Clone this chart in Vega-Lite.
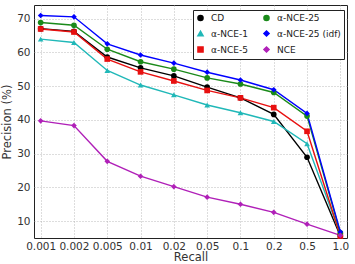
{
  "$schema": "https://vega.github.io/schema/vega-lite/v6.json",
  "autosize": "none",
  "width": 313,
  "height": 233,
  "padding": {"left": 34, "top": 5, "right": 8, "bottom": 26},
  "config": {
    "font": "DejaVu Sans",
    "view": {"stroke": "#222", "strokeWidth": 1},
    "axis": {"grid": true, "gridDash": [1, 2], "gridColor": "#aaa", "gridWidth": 0.8, "domain": false, "tickSize": 0, "labelColor": "#333", "titleColor": "#333", "labelFont": "DejaVu Sans", "titleFont": "DejaVu Sans", "titleFontWeight": "normal", "labelFontSize": 10.5, "titleFontSize": 11.5},
    "legend": {"title": null, "orient": "none", "legendX": 159, "legendY": 5, "columns": 2, "direction": "vertical", "strokeColor": "#222", "fillColor": "white", "padding": 3, "rowPadding": 3, "columnPadding": 12, "labelFontSize": 9, "labelFont": "DejaVu Sans", "labelColor": "#222", "symbolSize": 26, "labelLimit": 200, "labelOffset": 6}
  },
  "data": {"values": [
    {"recall": "0.001", "method": "CD", "precision": 67.0},
    {"recall": "0.002", "method": "CD", "precision": 66.2},
    {"recall": "0.005", "method": "CD", "precision": 58.6},
    {"recall": "0.01", "method": "CD", "precision": 55.4},
    {"recall": "0.02", "method": "CD", "precision": 53.0},
    {"recall": "0.05", "method": "CD", "precision": 49.7},
    {"recall": "0.1", "method": "CD", "precision": 46.5},
    {"recall": "0.2", "method": "CD", "precision": 41.6},
    {"recall": "0.5", "method": "CD", "precision": 28.9},
    {"recall": "1.0", "method": "CD", "precision": 5.6},
    {"recall": "0.001", "method": "α-NCE-1", "precision": 63.9},
    {"recall": "0.002", "method": "α-NCE-1", "precision": 62.9},
    {"recall": "0.005", "method": "α-NCE-1", "precision": 54.6},
    {"recall": "0.01", "method": "α-NCE-1", "precision": 50.3},
    {"recall": "0.02", "method": "α-NCE-1", "precision": 47.4},
    {"recall": "0.05", "method": "α-NCE-1", "precision": 44.4},
    {"recall": "0.1", "method": "α-NCE-1", "precision": 42.1},
    {"recall": "0.2", "method": "α-NCE-1", "precision": 39.5},
    {"recall": "0.5", "method": "α-NCE-1", "precision": 32.9},
    {"recall": "1.0", "method": "α-NCE-1", "precision": 6.0},
    {"recall": "0.001", "method": "α-NCE-5", "precision": 66.9},
    {"recall": "0.002", "method": "α-NCE-5", "precision": 66.0},
    {"recall": "0.005", "method": "α-NCE-5", "precision": 58.0},
    {"recall": "0.01", "method": "α-NCE-5", "precision": 54.2},
    {"recall": "0.02", "method": "α-NCE-5", "precision": 51.5},
    {"recall": "0.05", "method": "α-NCE-5", "precision": 48.7},
    {"recall": "0.1", "method": "α-NCE-5", "precision": 46.5},
    {"recall": "0.2", "method": "α-NCE-5", "precision": 43.6},
    {"recall": "0.5", "method": "α-NCE-5", "precision": 36.6},
    {"recall": "1.0", "method": "α-NCE-5", "precision": 5.6},
    {"recall": "0.001", "method": "α-NCE-25", "precision": 68.8},
    {"recall": "0.002", "method": "α-NCE-25", "precision": 68.0},
    {"recall": "0.005", "method": "α-NCE-25", "precision": 60.9},
    {"recall": "0.01", "method": "α-NCE-25", "precision": 57.2},
    {"recall": "0.02", "method": "α-NCE-25", "precision": 55.0},
    {"recall": "0.05", "method": "α-NCE-25", "precision": 52.4},
    {"recall": "0.1", "method": "α-NCE-25", "precision": 50.6},
    {"recall": "0.2", "method": "α-NCE-25", "precision": 48.1},
    {"recall": "0.5", "method": "α-NCE-25", "precision": 41.1},
    {"recall": "1.0", "method": "α-NCE-25", "precision": 6.5},
    {"recall": "0.001", "method": "α-NCE-25 (idf)", "precision": 70.9},
    {"recall": "0.002", "method": "α-NCE-25 (idf)", "precision": 70.5},
    {"recall": "0.005", "method": "α-NCE-25 (idf)", "precision": 62.5},
    {"recall": "0.01", "method": "α-NCE-25 (idf)", "precision": 59.2},
    {"recall": "0.02", "method": "α-NCE-25 (idf)", "precision": 56.8},
    {"recall": "0.05", "method": "α-NCE-25 (idf)", "precision": 54.1},
    {"recall": "0.1", "method": "α-NCE-25 (idf)", "precision": 51.8},
    {"recall": "0.2", "method": "α-NCE-25 (idf)", "precision": 48.9},
    {"recall": "0.5", "method": "α-NCE-25 (idf)", "precision": 41.9},
    {"recall": "1.0", "method": "α-NCE-25 (idf)", "precision": 6.8},
    {"recall": "0.001", "method": "NCE", "precision": 39.7},
    {"recall": "0.002", "method": "NCE", "precision": 38.3},
    {"recall": "0.005", "method": "NCE", "precision": 27.7},
    {"recall": "0.01", "method": "NCE", "precision": 23.3},
    {"recall": "0.02", "method": "NCE", "precision": 20.2},
    {"recall": "0.05", "method": "NCE", "precision": 17.1},
    {"recall": "0.1", "method": "NCE", "precision": 15.0},
    {"recall": "0.2", "method": "NCE", "precision": 12.6},
    {"recall": "0.5", "method": "NCE", "precision": 9.1},
    {"recall": "1.0", "method": "NCE", "precision": 5.8}
  ]},
  "encoding": {
    "x": {"field": "recall", "type": "ordinal", "sort": ["0.001", "0.002", "0.005", "0.01", "0.02", "0.05", "0.1", "0.2", "0.5", "1.0"], "scale": {"type": "point", "padding": 0.2}, "axis": {"title": "Recall", "labelAngle": 0, "labelPadding": 3, "titlePadding": 0}},
    "y": {"field": "precision", "type": "quantitative", "scale": {"domain": [5, 74], "nice": false, "zero": false}, "axis": {"title": "Precision (%)", "values": [10, 20, 30, 40, 50, 60, 70], "labelPadding": 4, "titlePadding": 4}},
    "color": {"field": "method", "type": "nominal", "scale": {"domain": ["CD", "α-NCE-1", "α-NCE-5", "α-NCE-25", "α-NCE-25 (idf)", "NCE"], "range": ["#000000", "#20b8b8", "#e81010", "#1a8a1a", "#0000ff", "#b020b8"]}}
  },
  "layer": [
    {"mark": {"type": "line", "strokeWidth": 1.4}, "encoding": {"detail": {"field": "method"}}},
    {"mark": {"type": "point", "filled": true, "opacity": 1, "size": 32},
     "encoding": {
       "shape": {"field": "method", "type": "nominal", "scale": {"domain": ["CD", "α-NCE-1", "α-NCE-5", "α-NCE-25", "α-NCE-25 (idf)", "NCE"], "range": ["circle", "triangle-up", "square", "circle", "diamond", "diamond"]}}
     }}
  ]
}
